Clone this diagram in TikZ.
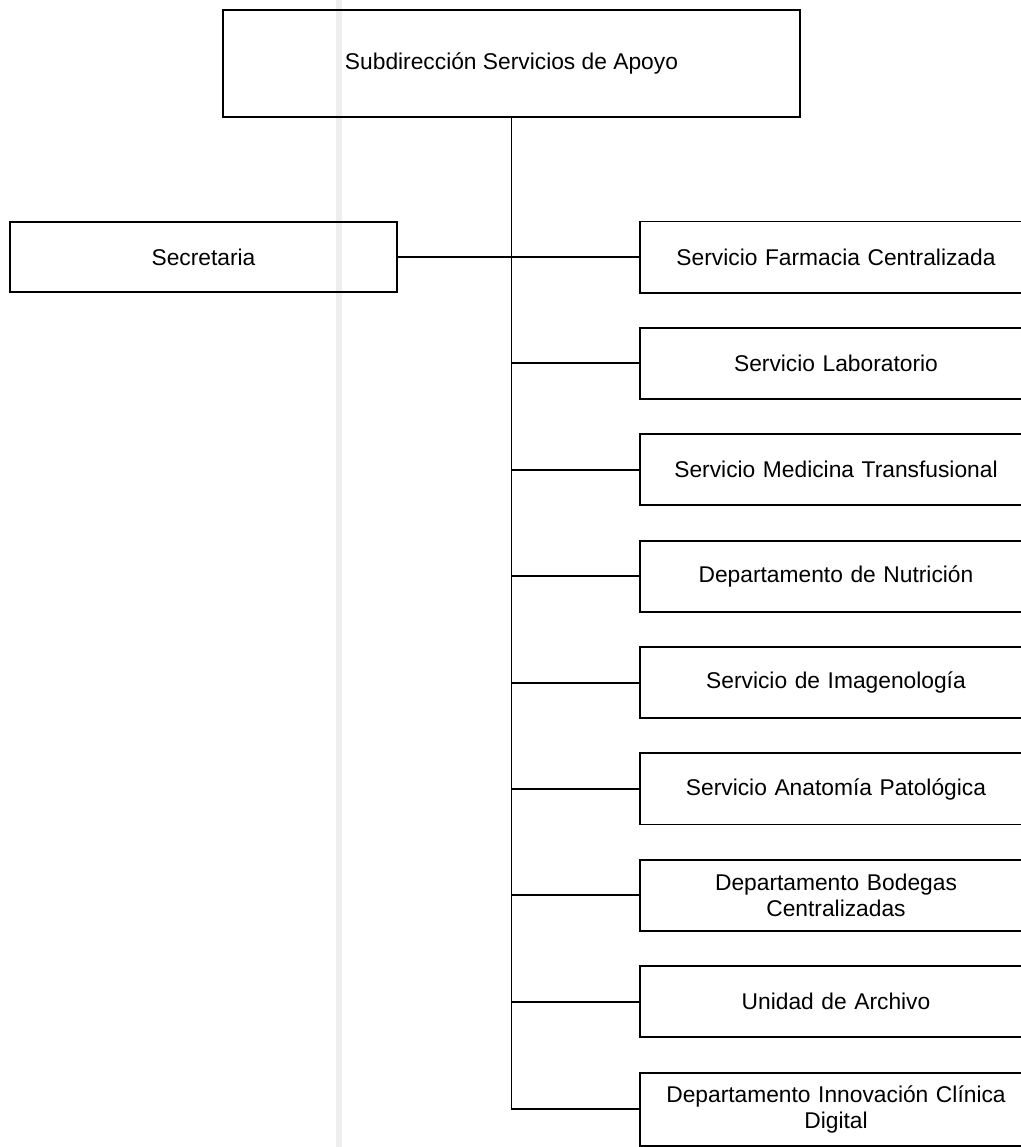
\documentclass[tikz,border=0pt]{standalone}
\usepackage{fontspec}
\setmainfont{Liberation Sans}
\usetikzlibrary{positioning}
\hyphenpenalty=10000
\exhyphenpenalty=10000

\begin{document}
\begin{tikzpicture}[
	x=0.025cm, y=-0.025cm,
	font=\fontsize{16.2}{18.5}\selectfont,
	head/.style={rectangle, draw=black, line width=1.4pt, minimum width=14.425cm, minimum height=2.675cm},
	unit/.style={rectangle, draw=black, line width=1.4pt, minimum width=9.8cm, minimum height=1.775cm, text width=9.3cm, align=center, inner sep=0pt},
	scanline/.style={fill=gray!13, draw=none}
]
	\useasboundingbox (0,0) rectangle (1021,1147);
	\clip (0,0) rectangle (1021,1147);
	\fill[scanline] (336,0) rectangle (342,1147);
	\node[head] (subdir) at (511.5,63.5) {Subdirección Servicios de Apoyo};
	\node[unit, minimum width=9.675cm, minimum height=1.75cm] (secretaria) at (203.5,257) {Secretaria};
	\node[unit] (farmacia) at (836,257) {Servicio Farmacia Centralizada};
	\node[unit] (laboratorio) [below=0.835cm of farmacia] {Servicio Laboratorio};
	\node[unit] (medicina) [below=0.835cm of laboratorio] {Servicio Medicina Transfusional};
	\node[unit] (nutricion) [below=0.835cm of medicina] {Departamento de Nutrición};
	\node[unit] (imagenologia) [below=0.835cm of nutricion] {Servicio de Imagenología};
	\node[unit] (anatomia) [below=0.835cm of imagenologia] {Servicio Anatomía Patológica};
	\node[unit] (bodegas) [below=0.835cm of anatomia] {Departamento Bodegas\\Centralizadas};
	\node[unit] (archivo) [below=0.835cm of bodegas] {Unidad de Archivo};
	\node[unit, minimum height=1.825cm] (innovacion) [below=0.835cm of archivo] {Departamento Innovación Clínica\\Digital};
	\begin{scope}[line width=1.4pt]
	\draw (subdir.south) -- (subdir.south |- innovacion.west) -- (innovacion.west);
	\draw (secretaria.east) -- (farmacia.west);
	\foreach \unitname in {laboratorio, medicina, nutricion, imagenologia, anatomia, bodegas, archivo}
		\draw (subdir.south |- \unitname.west) -- (\unitname.west);
	\end{scope}
\end{tikzpicture}
\end{document}
